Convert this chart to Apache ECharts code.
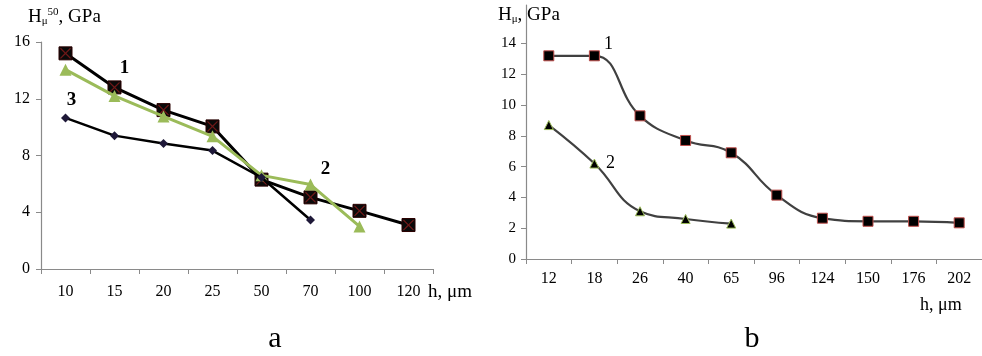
<!DOCTYPE html>
<html>
<head>
<meta charset="utf-8">
<script src="https://cdn.jsdelivr.net/npm/echarts@6/dist/echarts.min.js"></script>
<style>html,body{margin:0;padding:0;background:#fff}#c{width:982px;height:356px}</style>
</head>
<body>
<div id="c"></div>
<script>
// ---- data (chart a) ----
const leftCategories = ['10', '15', '20', '25', '50', '70', '100', '120'];
const leftSeries1 = [15.2, 12.8, 11.2, 10.05, 6.3, 5.05, 4.1, 3.1];
const leftSeries2 = [14.05, 12.2, 10.75, 9.35, 6.6, 5.95, 3.0, null];
const leftSeries3 = [10.65, 9.4, 8.85, 8.35, 6.45, 3.45, null, null];
const leftYTicks = [0, 4, 8, 12, 16];

// ---- data (chart b) ----
const rightCategories = ['12', '18', '26', '40', '65', '96', '124', '150', '176', '202'];
const rightSeries1 = [13.2, 13.2, 9.3, 7.7, 6.9, 4.15, 2.65, 2.45, 2.45, 2.35];
const rightSeries2 = [8.7, 6.2, 3.1, 2.6, 2.3, null, null, null, null, null];
const rightYTicks = [0, 2, 4, 6, 8, 10, 12, 14];

const serif = 'Liberation Serif';
const axisGray = '#8a8a8a';

function withLabel(values, idx, text, offset, bold, size) {
  return values.map((v, i) => i === idx ? {
    value: v,
    label: {
      show: true, formatter: text, position: 'inside', offset: offset,
      fontFamily: serif, fontSize: size, fontWeight: bold ? 'bold' : 'normal', color: '#000'
    }
  } : v);
}

const chart = echarts.init(document.getElementById('c'), null, {renderer: 'canvas'});

const xAxisBase = (gridIndex, cats, margin) => ({
  type: 'category', gridIndex, data: cats,
  axisLine: {lineStyle: {color: axisGray, width: 1.2}},
  axisTick: {show: true, length: 5, lineStyle: {color: axisGray}},
  axisLabel: {fontFamily: serif, fontSize: 16, color: '#000', margin: margin},
  splitLine: {show: false}
});

const titleRich = {
  h: {fontFamily: serif, fontSize: 19, color: '#000', lineHeight: 20, verticalAlign: 'bottom'},
  s: {fontFamily: serif, fontSize: 11, color: '#000', lineHeight: 10, verticalAlign: 'bottom'},
  p: {fontFamily: serif, fontSize: 11, color: '#000', lineHeight: 14, verticalAlign: 'top'}
};

const option = {
  animation: false,
  backgroundColor: '#fff',
  grid: [
    {left: 41, top: 42, width: 392, height: 227},
    {left: 526, top: 5, right: 0, height: 254}
  ],
  xAxis: [xAxisBase(0, leftCategories, 15), xAxisBase(1, rightCategories, 12)],
  yAxis: [
    {
      type: 'value', gridIndex: 0, min: 0, max: 16, interval: 4,
      axisLine: {show: true, lineStyle: {color: axisGray, width: 1.2}},
      axisTick: {show: true, length: 5, lineStyle: {color: axisGray}, customValues: leftYTicks},
      axisLabel: {fontFamily: serif, fontSize: 16, color: '#000', margin: 11, customValues: leftYTicks},
      splitLine: {show: false}
    },
    {
      type: 'value', gridIndex: 1, min: 0, max: 16.5,
      axisLine: {show: true, lineStyle: {color: axisGray, width: 1.2}},
      axisTick: {show: true, length: 5, lineStyle: {color: axisGray}, customValues: rightYTicks},
      axisLabel: {fontFamily: serif, fontSize: 15, color: '#000', margin: 10, customValues: rightYTicks},
      splitLine: {show: false}
    }
  ],
  series: [
    {
      type: 'line', xAxisIndex: 0, yAxisIndex: 0, z: 3,
      data: withLabel(leftSeries1, 1, '1', [10, -19], true, 19),
      lineStyle: {color: '#000', width: 3},
      symbol: 'rect', symbolSize: 13,
      itemStyle: {color: '#0a0a0a', borderColor: '#2a0000', borderWidth: 1}
    },
    {
      type: 'scatter', xAxisIndex: 0, yAxisIndex: 0, z: 4, silent: true,
      data: leftSeries1,
      symbol: 'path://M0,0.8L0.8,0L5,4.2L9.2,0L10,0.8L5.8,5L10,9.2L9.2,10L5,5.8L0.8,10L0,9.2L4.2,5Z',
      symbolSize: 11,
      itemStyle: {color: '#8a1c1c'}
    },
    {
      type: 'line', xAxisIndex: 0, yAxisIndex: 0, z: 5,
      data: withLabel(leftSeries2, 5, '2', [15, -15], true, 19),
      lineStyle: {color: '#9bbb59', width: 3},
      symbol: 'triangle', symbolSize: 12,
      itemStyle: {color: '#9bbb59'}
    },
    {
      type: 'line', xAxisIndex: 0, yAxisIndex: 0, z: 6,
      data: withLabel(leftSeries3, 0, '3', [6, -18], true, 19),
      lineStyle: {color: '#000', width: 2.5},
      symbol: 'diamond', symbolSize: 9,
      itemStyle: {color: '#1e1838'}
    },
    {
      type: 'line', xAxisIndex: 1, yAxisIndex: 1, z: 3,
      data: withLabel(rightSeries1, 1, '1', [14, -12], false, 18),
      smooth: 0.45,
      lineStyle: {color: '#404040', width: 2.2},
      symbol: 'rect', symbolSize: 10,
      itemStyle: {color: '#000', borderColor: '#c0504d', borderWidth: 1}
    },
    {
      type: 'line', xAxisIndex: 1, yAxisIndex: 1, z: 3,
      data: withLabel(rightSeries2, 1, '2', [16, 0], false, 18),
      smooth: 0.45,
      lineStyle: {color: '#404040', width: 2.2},
      symbol: 'triangle', symbolSize: 9,
      itemStyle: {color: '#000', borderColor: '#9bbb59', borderWidth: 1}
    }
  ],
  graphic: [
    {
      type: 'text', left: 28, top: 7,
      style: {text: '{h|H}{s|μ}{p|50}{h|, GPa}', rich: titleRich}
    },
    {
      type: 'text', left: 498, top: 6,
      style: {text: '{h|H}{s|μ}{h|, GPa}', rich: titleRich}
    },
    {type: 'text', x: 428, y: 292, style: {text: 'h, μm', fontFamily: serif, fontSize: 19, fill: '#000', verticalAlign: 'middle'}},
    {type: 'text', x: 920, y: 305, style: {text: 'h, μm', fontFamily: serif, fontSize: 18, fill: '#000', verticalAlign: 'middle'}},
    {type: 'text', x: 275, y: 339, style: {text: 'a', fontFamily: serif, fontSize: 30, fill: '#000', align: 'center', verticalAlign: 'middle'}},
    {type: 'text', x: 752, y: 339, style: {text: 'b', fontFamily: serif, fontSize: 30, fill: '#000', align: 'center', verticalAlign: 'middle'}}
  ]
};
chart.setOption(option);
</script>
</body>
</html>
